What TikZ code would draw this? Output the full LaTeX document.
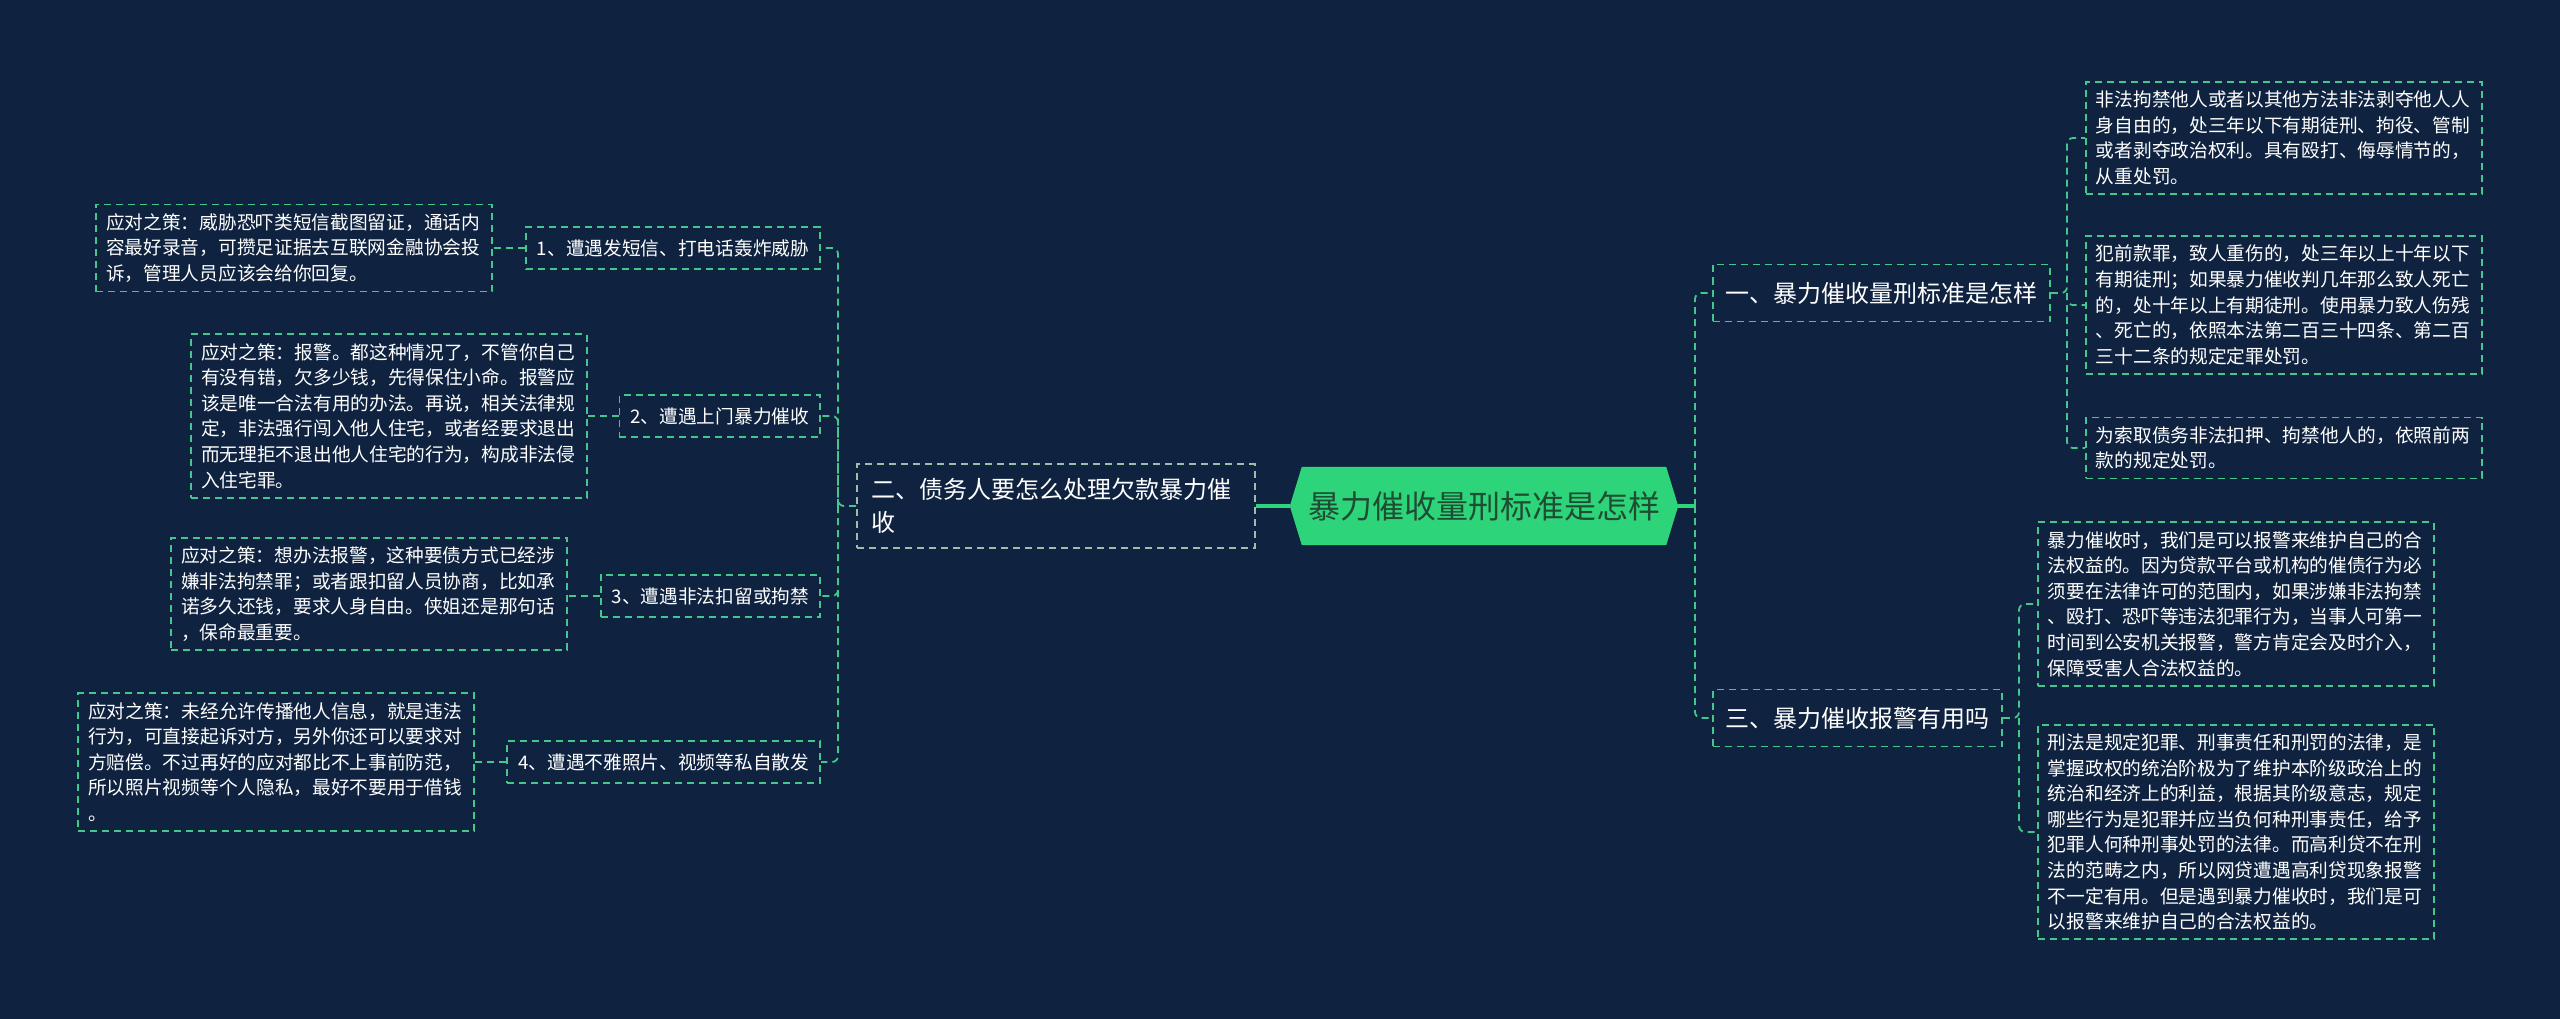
\documentclass[tikz,border=0pt]{standalone}
\usepackage{fontspec}
\setmainfont{Noto Sans CJK SC}
\usetikzlibrary{backgrounds}
\definecolor{bg}{HTML}{0F2340}
\definecolor{lg}{HTML}{45C68A}
\definecolor{pale}{HTML}{9BBFAA}
\definecolor{cg}{HTML}{2ED47A}
\definecolor{ctext}{HTML}{1F4D33}
\begin{document}
\begin{tikzpicture}[x=1pt,y=-1pt,
  dsh/.style={dash pattern=on 7pt off 5pt, line width=1.8pt},
  leaf/.style={draw=lg, dsh, text=white, align=left, text width=376pt,
    inner xsep=10pt, inner ysep=9pt, font=\fontsize{18.7}{25.6}\selectfont},
  cbox/.style={draw=lg, dsh, text=white, inner xsep=11pt, minimum height=42pt,
    font=\fontsize{18.7}{22}\selectfont},
  bbox/.style={draw=lg, dsh, text=white, inner xsep=12.5pt, minimum height=57pt,
    font=\fontsize{24}{30}\selectfont},
  conn/.style={draw=lg, dsh, rounded corners=6pt},
  stub/.style={draw=cg, line width=3.5pt},
  cnode/.style={text=ctext, minimum width=388pt, minimum height=78pt,
    inner sep=0pt, font=\fontsize{32}{36}\selectfont}
]
\useasboundingbox (0,0) rectangle (2560,1019);

% center
\node[cnode] (center) at (1484,506) {暴力催收量刑标准是怎样};

% branches
\node[draw=pale, dsh, text=white, align=left, text width=370pt, inner xsep=14pt,
  inner ysep=14pt, font=\fontsize{24}{33}\selectfont, anchor=east] (b2) at (1256,506)
  {二、债务人要怎么处理欠款暴力催\\收};
\node[bbox, anchor=west] (b1) at (1712,293) {一、暴力催收量刑标准是怎样};
\node[bbox, anchor=west] (b3) at (1712,718) {三、暴力催收报警有用吗};

% left children
\node[cbox, anchor=east] (c1) at (821,248) {1、遭遇发短信、打电话轰炸威胁};
\node[cbox, anchor=east] (c2) at (821,416) {2、遭遇上门暴力催收};
\node[cbox, anchor=east] (c3) at (821,596) {3、遭遇非法扣留或拘禁};
\node[cbox, anchor=east] (c4) at (821,762) {4、遭遇不雅照片、视频等私自散发};

% left leaves
\node[leaf, anchor=east] (l1) at (493,248)
{应对之策：威胁恐吓类短信截图留证，通话内\\容最好录音，可攒足证据去互联网金融协会投\\诉，管理人员应该会给你回复。};
\node[leaf, anchor=east] (l2) at (588,416)
{应对之策：报警。都这种情况了，不管你自己\\有没有错，欠多少钱，先得保住小命。报警应\\该是唯一合法有用的办法。再说，相关法律规\\定，非法强行闯入他人住宅，或者经要求退出\\而无理拒不退出他人住宅的行为，构成非法侵\\入住宅罪。};
\node[leaf, anchor=east] (l3) at (568,594)
{应对之策：想办法报警，这种要债方式已经涉\\嫌非法拘禁罪；或者跟扣留人员协商，比如承\\诺多久还钱，要求人身自由。侠姐还是那句话\\，保命最重要。};
\node[leaf, anchor=east] (l4) at (475,762)
{应对之策：未经允许传播他人信息，就是违法\\行为，可直接起诉对方，另外你还可以要求对\\方赔偿。不过再好的应对都比不上事前防范，\\所以照片视频等个人隐私，最好不要用于借钱\\。};

% right leaves
\node[leaf, anchor=west] (ra) at (2085,138)
{非法拘禁他人或者以其他方法非法剥夺他人人\\身自由的，处三年以下有期徒刑、拘役、管制\\或者剥夺政治权利。具有殴打、侮辱情节的，\\从重处罚。};
\node[leaf, anchor=west] (rb) at (2085,305)
{犯前款罪，致人重伤的，处三年以上十年以下\\有期徒刑；如果暴力催收判几年那么致人死亡\\的，处十年以上有期徒刑。使用暴力致人伤残\\、死亡的，依照本法第二百三十四条、第二百\\三十二条的规定定罪处罚。};
\node[leaf, anchor=west] (rc) at (2085,448)
{为索取债务非法扣押、拘禁他人的，依照前两\\款的规定处罚。};
\node[leaf, anchor=west] (rd) at (2037,604)
{暴力催收时，我们是可以报警来维护自己的合\\法权益的。因为贷款平台或机构的催债行为必\\须要在法律许可的范围内，如果涉嫌非法拘禁\\、殴打、恐吓等违法犯罪行为，当事人可第一\\时间到公安机关报警，警方肯定会及时介入，\\保障受害人合法权益的。};
\node[leaf, anchor=west] (re) at (2037,832)
{刑法是规定犯罪、刑事责任和刑罚的法律，是\\掌握政权的统治阶极为了维护本阶级政治上的\\统治和经济上的利益，根据其阶级意志，规定\\哪些行为是犯罪并应当负何种刑事责任，给予\\犯罪人何种刑事处罚的法律。而高利贷不在刑\\法的范畴之内，所以网贷遭遇高利贷现象报警\\不一定有用。但是遇到暴力催收时，我们是可\\以报警来维护自己的合法权益的。};

% bus coordinates
\coordinate (lbus) at (838,506);
\coordinate (rbus) at (1695,506);
\coordinate (abus) at (2067,293);
\coordinate (dbus) at (2019,718);

\begin{scope}[on background layer]
  \fill[bg] (0,0) rectangle (2560,1019);
  \fill[cg] (center.west) -- ([xshift=12pt]center.north west) -- ([xshift=-12pt]center.north east)
    -- (center.east) -- ([xshift=-12pt]center.south east) -- ([xshift=12pt]center.south west) -- cycle;
  % stubs
  \draw[stub] (center.west) -- (b2.east);
  \draw[stub] (center.east) -- (rbus);
  % right main
  \draw[conn] (rbus) |- (b1.west);
  \draw[conn] (rbus) |- (b3.west);
  % left
  \draw[conn] (b2.west) -- (lbus) |- (c1.east);
  \draw[conn] (lbus) |- (c2.east);
  \draw[conn] (lbus) |- (c3.east);
  \draw[conn] (lbus) |- (c4.east);
  \draw[conn] (c1.west) -- (c1.west -| l1.east);
  \draw[conn] (c2.west) -- (c2.west -| l2.east);
  \draw[conn] (c3.west) -- (c3.west -| l3.east);
  \draw[conn] (c4.west) -- (c4.west -| l4.east);
  % branch 1 children
  \draw[conn] (b1.east) -- (abus) |- (ra.west);
  \draw[conn] (abus) |- (rb.west);
  \draw[conn] (abus) |- (rc.west);
  % branch 3 children
  \draw[conn] (b3.east) -- (dbus) |- (rd.west);
  \draw[conn] (dbus) |- (re.west);
\end{scope}
\end{tikzpicture}
\end{document}
